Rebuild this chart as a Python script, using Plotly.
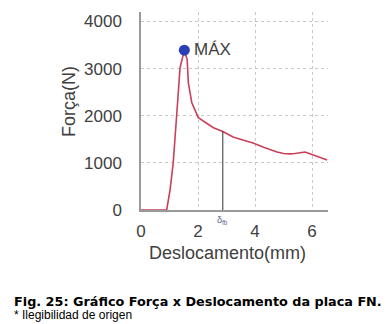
import plotly.graph_objects as go

# Data
desloc = [0, 0.90, 1.02, 1.13, 1.25, 1.37, 1.52, 1.62, 1.66, 1.78, 2.01, 2.54, 2.87,
          3.23, 3.6, 3.93, 4.3, 4.77, 5.0, 5.23, 5.4, 5.5, 5.75, 5.9, 6.04, 6.3, 6.53]
forca = [0, 0, 425, 1000, 2000, 3020, 3390, 3190, 2700, 2280, 1960, 1745, 1666,
         1550, 1480, 1420, 1330, 1230, 1200, 1190, 1200, 1210, 1230, 1200, 1170, 1110, 1060]
max_x, max_y = 1.52, 3390
dfb_x, dfb_y = 2.87, 1666
x_ticks = [0, 2, 4, 6]
y_ticks = [0, 1000, 2000, 3000, 4000]

font = "Liberation Sans, Arial, sans-serif"
fig = go.Figure()
fig.add_trace(go.Scatter(x=desloc, y=forca, mode="lines",
                         line=dict(color="#c8405a", width=1.6), showlegend=False))
fig.add_trace(go.Scatter(x=[dfb_x, dfb_x], y=[0, dfb_y], mode="lines",
                         line=dict(color="#333333", width=1), showlegend=False))
fig.add_trace(go.Scatter(x=[max_x], y=[max_y], mode="markers",
                         marker=dict(color="#2b3fb5", size=11), showlegend=False))

fig.add_annotation(x=max_x, y=max_y, text="MÁX", showarrow=False, xanchor="left",
                   yanchor="middle", xshift=8, yshift=1,
                   font=dict(family=font, size=17, color="#404040"))
fig.add_annotation(x=dfb_x, y=0, text="δ<sub>fb</sub>", showarrow=False, yanchor="top",
                   xanchor="center", yshift=-3, font=dict(family=font, size=9, color="#5a6a8a"))

fig.add_annotation(xref="paper", yref="paper", x=-0.385, y=0.545, text="Força(N)",
                   textangle=-90, showarrow=False, xanchor="center", yanchor="middle",
                   font=dict(family=font, size=18, color="#404040"))
fig.add_annotation(xref="paper", yref="paper", x=0.463, y=-0.217, text="Deslocamento(mm)",
                   showarrow=False, xanchor="center", yanchor="middle",
                   font=dict(family=font, size=18, color="#404040"))

fig.add_annotation(xref="paper", yref="paper", x=-0.69, y=-0.46, xanchor="left",
                   yanchor="middle",
                   text="<b>Fig. 25: Gráfico Força x Deslocamento da placa FN.</b>",
                   showarrow=False, font=dict(family="DejaVu Sans, sans-serif", size=12.8,
                                              color="#000000"))
fig.add_annotation(xref="paper", yref="paper", x=-0.69, y=-0.53, xanchor="left",
                   yanchor="middle", text="* Ilegibilidad de origen",
                   showarrow=False, font=dict(family=font, size=12, color="#000000"))

# the page body adds an 8px offset, so the figure is drawn 8px smaller
fig.update_layout(
    width=383, height=316,
    margin=dict(l=133, r=63, t=4, b=114),
    paper_bgcolor="white", plot_bgcolor="white",
    font=dict(family=font, size=17, color="#404040"),
)
fig.update_xaxes(range=[0, 6.56], tickvals=x_ticks, showgrid=True, gridcolor="#c8c8c8",
                 griddash="dot", gridwidth=1, showline=True, linecolor="#999999",
                 linewidth=1.5, zeroline=False, ticks="", ticklabelstandoff=5)
fig.update_yaxes(range=[0, 4200], tickvals=y_ticks, showgrid=True, gridcolor="#c8c8c8",
                 griddash="dot", gridwidth=1, showline=True, linecolor="#999999",
                 linewidth=1.5, zeroline=False, ticks="", ticklabelstandoff=14)

fig.write_html("out.html")
